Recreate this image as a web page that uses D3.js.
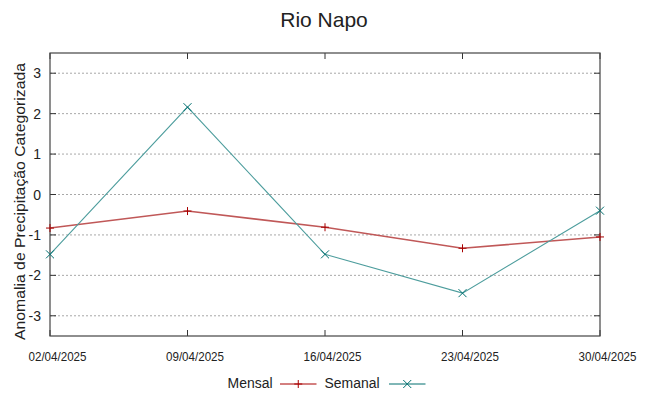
<!DOCTYPE html>
<html>
<head>
<meta charset="utf-8">
<script src="https://cdn.jsdelivr.net/npm/d3@7"></script>
<style>
  body { margin: 0; background: #fff; }
  text { font-family: "Liberation Sans", Arial, sans-serif; fill: #222; }
</style>
</head>
<body>
<div id="chart"></div>
<script>
// ---------------- Data ----------------
const dates = ["02/04/2025", "09/04/2025", "16/04/2025", "23/04/2025", "30/04/2025"];
const mensal = [-0.83, -0.41, -0.81, -1.33, -1.05];
const semanal = [-1.48, 2.16, -1.48, -2.44, -0.40];
const yTicks = [-3, -2, -1, 0, 1, 2, 3];

const width = 648, height = 396;
const margin = { top: 53, right: 48, bottom: 60, left: 50 };

const parse = d3.timeParse("%d/%m/%Y");
const fmt = d3.timeFormat("%d/%m/%Y");

const svg = d3.select("#chart").append("svg")
    .attr("width", width).attr("height", height);

const x = d3.scaleTime()
    .domain([parse(dates[0]), parse(dates[dates.length - 1])])
    .range([margin.left, width - margin.right]);
const y = d3.scaleLinear()
    .domain([-3.5, 3.5])
    .range([height - margin.bottom, margin.top]);

const x0 = margin.left, x1 = width - margin.right;
const y0 = height - margin.bottom, y1 = margin.top;

// grid lines (horizontal only)
svg.append("g").selectAll("line").data(yTicks).join("line")
    .attr("x1", x0).attr("x2", x1)
    .attr("y1", d => y(d)).attr("y2", d => y(d))
    .attr("stroke", "#a8a8a8").attr("stroke-width", 1)
    .attr("stroke-dasharray", "2,2");

// inward ticks on all sides
const tickLen = 6;
const tickG = svg.append("g").attr("stroke", "#333").attr("stroke-width", 1);
yTicks.forEach(t => {
    tickG.append("line").attr("x1", x0).attr("x2", x0 + tickLen).attr("y1", y(t)).attr("y2", y(t));
    tickG.append("line").attr("x1", x1).attr("x2", x1 - tickLen).attr("y1", y(t)).attr("y2", y(t));
});
dates.forEach(d => {
    const px = x(parse(d));
    tickG.append("line").attr("x1", px).attr("x2", px).attr("y1", y0).attr("y2", y0 - tickLen);
    tickG.append("line").attr("x1", px).attr("x2", px).attr("y1", y1).attr("y2", y1 + tickLen);
});

// frame
svg.append("rect")
    .attr("x", x0).attr("y", y1)
    .attr("width", x1 - x0).attr("height", y0 - y1)
    .attr("fill", "none").attr("stroke", "#444").attr("stroke-width", 1.2);

// y tick labels
svg.append("g").selectAll("text").data(yTicks).join("text")
    .attr("x", x0 - 9).attr("y", d => y(d) + 5)
    .attr("text-anchor", "end")
    .style("font-size", "14px")
    .text(d => d);

// x tick labels (slightly condensed, shifted right like gnuplot)
svg.append("g").selectAll("text").data(dates).join("text")
    .attr("x", d => x(parse(d)) + 7.5).attr("y", y0 + 25)
    .attr("text-anchor", "middle")
    .attr("textLength", 58)
    .attr("lengthAdjust", "spacingAndGlyphs")
    .style("font-size", "13.5px")
    .text(d => fmt(parse(d)));

// title
svg.append("text")
    .attr("x", width / 2).attr("y", 27)
    .attr("text-anchor", "middle")
    .style("font-size", "21px")
    .text("Rio Napo");

// y axis label
svg.append("text")
    .attr("transform", `translate(25,201.5) rotate(-90)`)
    .attr("text-anchor", "middle")
    .attr("textLength", 277)
    .attr("lengthAdjust", "spacingAndGlyphs")
    .style("font-size", "15.5px")
    .text("Anomalia de Precipitação Categorizada");

// ---------------- Series ----------------
const series = [
    { name: "Mensal", values: mensal, color: "#a80000", lineColor: "#c05858", width: 1.6, marker: "plus" },
    { name: "Semanal", values: semanal, color: "#006f6f", lineColor: "#4d9d9d", width: 1.1, marker: "cross" }
];

function drawMarker(g, type, cx, cy, color) {
    const s = 4;
    if (type === "plus") {
        g.append("line").attr("x1", cx - s).attr("x2", cx + s).attr("y1", cy).attr("y2", cy)
            .attr("stroke", color).attr("stroke-width", 1);
        g.append("line").attr("x1", cx).attr("x2", cx).attr("y1", cy - s).attr("y2", cy + s)
            .attr("stroke", color).attr("stroke-width", 1);
    } else {
        g.append("line").attr("x1", cx - s).attr("x2", cx + s).attr("y1", cy - s).attr("y2", cy + s)
            .attr("stroke", color).attr("stroke-width", 1);
        g.append("line").attr("x1", cx - s).attr("x2", cx + s).attr("y1", cy + s).attr("y2", cy - s)
            .attr("stroke", color).attr("stroke-width", 1);
    }
}

const line = d3.line()
    .x((d, i) => x(parse(dates[i])))
    .y(d => y(d));

series.forEach(s => {
    svg.append("path")
        .datum(s.values)
        .attr("fill", "none")
        .attr("stroke", s.lineColor)
        .attr("stroke-width", s.width)
        .attr("d", line);
    const mg = svg.append("g");
    s.values.forEach((v, i) => drawMarker(mg, s.marker, x(parse(dates[i])), y(v), s.color));
});

// ---------------- Legend ----------------
const legendY = 384;
const legendItems = [
    { s: series[0], textEnd: 272.5, len: 45, lx1: 280, lx2: 316.5 },
    { s: series[1], textEnd: 379.5, len: 55, lx1: 389, lx2: 425.5 }
];
legendItems.forEach(it => {
    svg.append("text")
        .attr("x", it.textEnd - it.len).attr("y", legendY + 4)
        .attr("textLength", it.len)
        .attr("lengthAdjust", "spacingAndGlyphs")
        .style("font-size", "15.5px")
        .text(it.s.name);
    svg.append("line")
        .attr("x1", it.lx1).attr("x2", it.lx2)
        .attr("y1", legendY).attr("y2", legendY)
        .attr("stroke", it.s.color).attr("stroke-width", 1);
    const mg = svg.append("g");
    drawMarker(mg, it.s.marker, (it.lx1 + it.lx2) / 2, legendY, it.s.color);
});
</script>
</body>
</html>
